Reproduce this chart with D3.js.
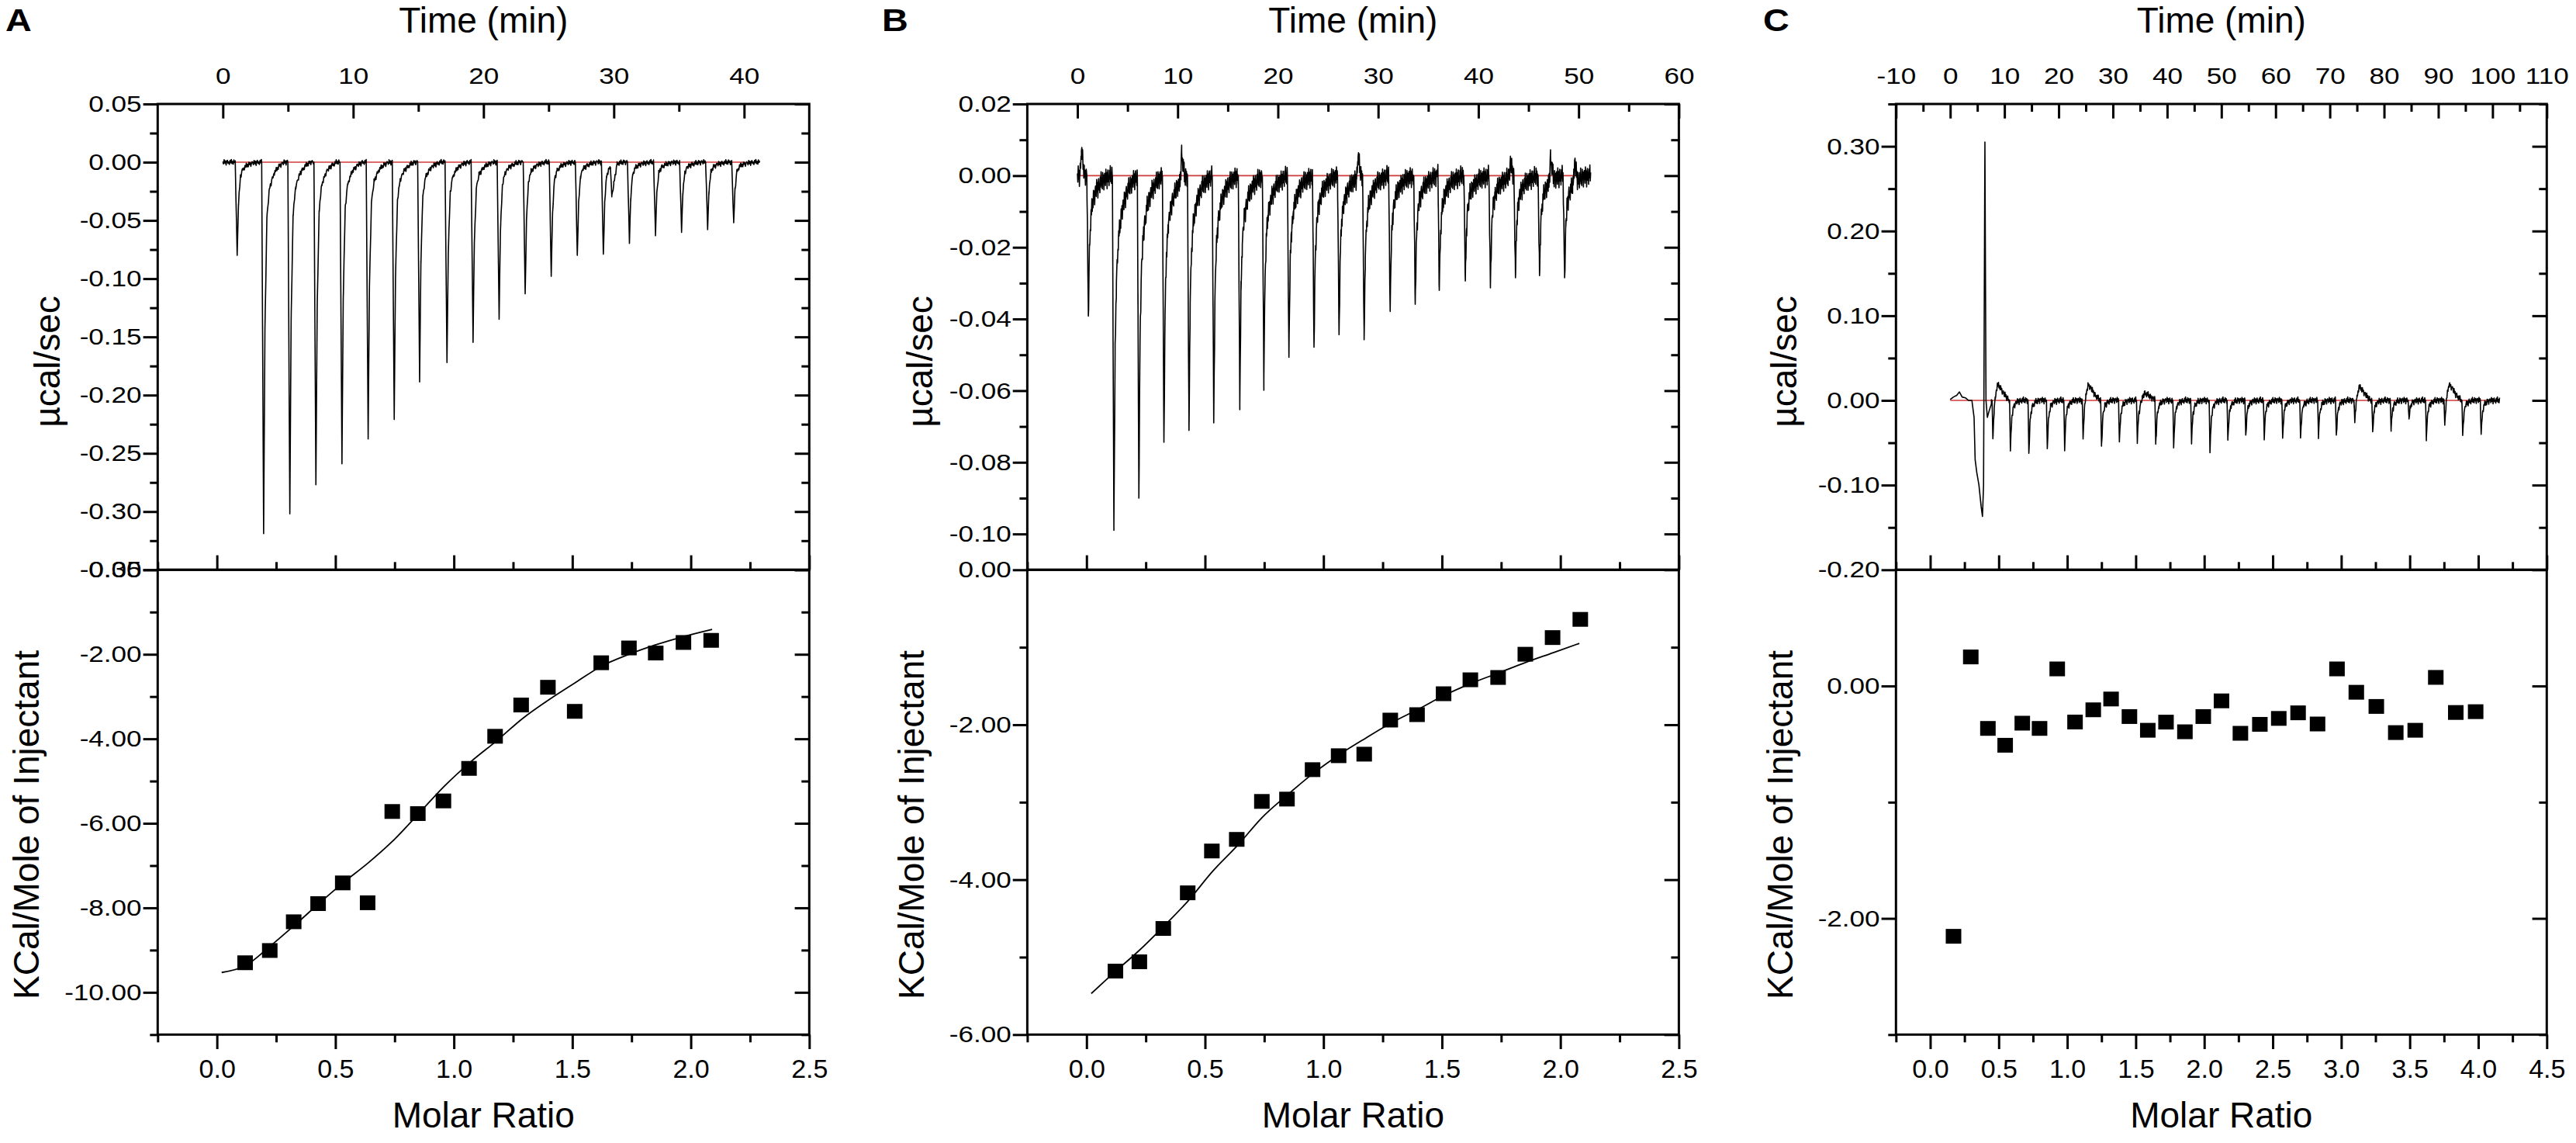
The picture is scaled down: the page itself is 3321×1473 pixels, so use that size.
<!DOCTYPE html>
<html><head><meta charset="utf-8">
<script src="https://cdn.jsdelivr.net/npm/d3@7"></script>
<style>
html,body{margin:0;padding:0;background:#fff;}
svg{display:block;}
text{font-family:"Liberation Sans", Arial, Helvetica, sans-serif; fill:#000;}
</style></head><body>
<svg id="chart" width="3321" height="1473"></svg>
<script>
// ================= DATA =================
const panelLetters = ["A", "B", "C"];
const timeTitle = "Time (min)";
const heatTitle = "µcal/sec";
const enthTitle = "KCal/Mole of Injectant";
const ratioTitle = "Molar Ratio";

// ---- Panel A ----
const timeDomainA = [-5, 45];
const timeTicksA = [0, 10, 20, 30, 40];
const timeMinorA = [5, 15, 25, 35];
const heatDomainA = [-0.35, 0.05];
const heatTicksA = [0.05, 0.00, -0.05, -0.10, -0.15, -0.20, -0.25, -0.30, -0.35];
const heatMinorA = [0.025, -0.025, -0.075, -0.125, -0.175, -0.225, -0.275, -0.325];
const enthDomainA = [-11, 0];
const enthTicksA = [0, -2, -4, -6, -8, -10];
const enthMinorA = [-1, -3, -5, -7, -9, -11];
const ratioDomainA = [-0.25, 2.5];
const ratioTicksA = [0, 0.5, 1.0, 1.5, 2.0, 2.5];
const ratioMinorA = [-0.25, 0.25, 0.75, 1.25, 1.75, 2.25];
const injTimesA = [1.1, 3.13, 5.14, 7.14, 9.14, 11.15, 13.15, 15.1, 17.2, 19.2, 21.2, 23.2, 25.2, 27.2, 29.2, 31.2, 33.2, 35.2, 37.2, 39.2];
const injPeaksA = [-0.080, -0.319, -0.302, -0.277, -0.259, -0.236, -0.219, -0.188, -0.172, -0.153, -0.133, -0.113, -0.098, -0.080, -0.079, -0.069, -0.061, -0.059, -0.057, -0.052];
const peakShapeA = [[-0.15, 0], [0, 1], [0.1, 0.45], [0.25, 0.15], [0.45, 0.07], [0.8, 0.03], [1.2, 0.01], [1.6, 0]];
const bumpTimesA = [29.85];
const bumpValsA = [-0.026];
const traceRangeA = [0, 41.2];
const refLineA = [0, 40.1];
const ratioA = [0.119, 0.223, 0.324, 0.427, 0.531, 0.636, 0.740, 0.848, 0.956, 1.064, 1.174, 1.284, 1.397, 1.510, 1.622, 1.739, 1.852, 1.969, 2.086];
const enthA = [-9.30, -9.01, -8.33, -7.90, -7.41, -7.88, -5.72, -5.77, -5.47, -4.70, -3.94, -3.20, -2.78, -3.35, -2.20, -1.85, -1.97, -1.72, -1.67];
const fitRatioA = [0.02, 0.12, 0.22, 0.32, 0.43, 0.53, 0.64, 0.74, 0.85, 0.96, 1.07, 1.18, 1.29, 1.40, 1.51, 1.62, 1.74, 1.85, 1.97, 2.09];
const fitEnthA = [-9.53, -9.37, -8.93, -8.45, -7.90, -7.42, -6.93, -6.43, -5.78, -5.12, -4.55, -4.05, -3.52, -3.08, -2.68, -2.29, -2.00, -1.78, -1.58, -1.41];

// ---- Panel B ----
const timeDomainB = [-5, 60];
const timeTicksB = [0, 10, 20, 30, 40, 50, 60];
const timeMinorB = [5, 15, 25, 35, 45, 55];
const heatDomainB = [-0.11, 0.02];
const heatTicksB = [0.02, 0.00, -0.02, -0.04, -0.06, -0.08, -0.10];
const heatMinorB = [0.01, -0.01, -0.03, -0.05, -0.07, -0.09];
const enthDomainB = [-6, 0];
const enthTicksB = [0, -2, -4, -6];
const enthMinorB = [-1, -3, -5];
const ratioDomainB = [-0.25, 2.5];
const ratioTicksB = [0, 0.5, 1.0, 1.5, 2.0, 2.5];
const ratioMinorB = [-0.25, 0.25, 0.75, 1.25, 1.75, 2.25];
const injTimesB = [1.09, 3.64, 6.13, 8.63, 11.13, 13.6, 16.2, 18.6, 21.1, 23.6, 26.1, 28.6, 31.2, 33.7, 36.1, 38.7, 41.2, 43.7, 46.1, 48.6];
const injPeaksB = [-0.0392, -0.0990, -0.0900, -0.0744, -0.0711, -0.0687, -0.0638, -0.0569, -0.0547, -0.0479, -0.0444, -0.0458, -0.0379, -0.0359, -0.0347, -0.0294, -0.0310, -0.0285, -0.0279, -0.0285];
const peakShapeB = [[-0.15, 0], [0, 1], [0.12, 0.5], [0.25, 0.3], [0.45, 0.18], [0.8, 0.1], [1.3, 0.045], [1.9, 0.015], [2.4, 0]];
const bumpTimesB = [0.4, 10.4, 21.1, 28.0, 36.0, 43.2, 47.2, 49.6];
const bumpValsB = [0.007, 0.008, 0.004, 0.006, 0.004, 0.004, 0.007, 0.006];
const traceRangeB = [0, 51.2];
const refLineB = [0, 51.0];
const ratioB = [0.122, 0.223, 0.324, 0.427, 0.529, 0.634, 0.740, 0.846, 0.954, 1.064, 1.172, 1.282, 1.395, 1.507, 1.620, 1.737, 1.852, 1.967, 2.084];
const enthB = [-5.18, -5.06, -4.63, -4.17, -3.63, -3.48, -2.99, -2.96, -2.58, -2.40, -2.38, -1.94, -1.87, -1.60, -1.42, -1.39, -1.09, -0.875, -0.64];
const fitRatioB = [0.02, 0.12, 0.22, 0.32, 0.43, 0.53, 0.64, 0.74, 0.85, 0.96, 1.07, 1.18, 1.29, 1.40, 1.51, 1.62, 1.74, 1.85, 1.97, 2.08];
const fitEnthB = [-5.47, -5.19, -4.92, -4.62, -4.27, -3.90, -3.55, -3.20, -2.90, -2.62, -2.38, -2.17, -1.97, -1.80, -1.62, -1.47, -1.33, -1.20, -1.07, -0.95];

// ---- Panel C ----
const timeDomainC = [-10, 110];
const timeTicksC = [-10, 0, 10, 20, 30, 40, 50, 60, 70, 80, 90, 100, 110];
const timeMinorC = [-5, 5, 15, 25, 35, 45, 55, 65, 75, 85, 95, 105];
const heatDomainC = [-0.20, 0.35];
const heatTicksC = [0.30, 0.20, 0.10, 0.00, -0.10, -0.20];
const heatMinorC = [0.35, 0.25, 0.15, 0.05, -0.05, -0.15];
const enthDomainC = [-3, 1];
const enthTicksC = [0, -2];
const enthMinorC = [-1, -3];
const ratioDomainC = [-0.25, 4.5];
const ratioTicksC = [0, 0.5, 1.0, 1.5, 2.0, 2.5, 3.0, 3.5, 4.0, 4.5];
const ratioMinorC = [-0.25, 0.25, 0.75, 1.25, 1.75, 2.25, 2.75, 3.25, 3.75, 4.25];
const firstEventC = [[0, 0.001], [0.6, 0.004], [1.2, 0.006], [1.7, 0.010], [2.2, 0.004], [2.8, 0.003], [3.4, 0.0], [4.0, 0.0], [4.4, -0.02], [4.6, -0.07], [4.9, -0.085], [5.3, -0.10], [5.7, -0.125], [5.95, -0.137], [6.15, -0.10], [6.4, 0.305], [6.6, 0.0], [6.85, -0.02], [7.2, -0.012], [7.6, -0.004]];
const injTimesC = [7.87, 11.1, 14.5, 17.9, 21.1, 24.5, 27.9, 31.2, 34.5, 37.9, 41.2, 44.5, 47.9, 51.2, 54.5, 57.9, 61.3, 64.6, 67.9, 71.2, 74.6, 77.9, 81.3, 84.6, 87.8, 91.2, 94.5, 97.9];
const injPeaksC = [-0.047, -0.059, -0.0625, -0.057, -0.056, -0.044, -0.054, -0.049, -0.048, -0.052, -0.054, -0.049, -0.061, -0.047, -0.041, -0.043, -0.043, -0.044, -0.041, -0.041, -0.027, -0.037, -0.034, -0.022, -0.044, -0.030, -0.041, -0.040];
const peakShapeC = [[-0.15, 0], [0, 1], [0.25, 0.35], [0.6, 0.12], [1.2, 0.03], [2.0, 0]];
const bumpTimesC = [8.7, 25.4, 35.8, 75.4, 92.0];
const bumpValsC = [0.022, 0.021, 0.010, 0.018, 0.021];
const traceRangeC = [7.6, 101.3];
const refLineC = [0, 101.2];
const ratioC = [0.170, 0.296, 0.421, 0.547, 0.672, 0.798, 0.927, 1.057, 1.190, 1.320, 1.454, 1.588, 1.721, 1.859, 1.993, 2.126, 2.264, 2.406, 2.544, 2.685, 2.827, 2.969, 3.110, 3.256, 3.398, 3.540, 3.690, 3.836, 3.981];
const enthC = [-2.154, 0.25, -0.365, -0.51, -0.32, -0.365, 0.147, -0.31, -0.205, -0.112, -0.263, -0.381, -0.311, -0.394, -0.263, -0.128, -0.407, -0.330, -0.279, -0.231, -0.327, 0.147, -0.054, -0.176, -0.401, -0.381, 0.074, -0.228, -0.221];

// hand-picked baseline wiggle pattern (instrument noise look)
const baselineWiggle = [0.2, -0.6, 0.9, -0.3, 0.5, -1.0, 0.4, 0.7, -0.4, 0.1, -0.8, 0.6, -0.2, 1.0, -0.5, 0.3, -0.7, 0.8, -0.1, 0.5, -0.9, 0.2, 0.6];
const bumpShapeC = [[-0.9, 0], [-0.4, 0.55], [0, 1], [0.5, 0.75], [1.2, 0.35], [2.2, 0]];
const bumpShapeB = [[-0.15, 0], [0, 1], [0.3, 0]];
const dipShapeA = [[-0.1, 0], [0, 1], [0.4, 0]];

// ================= LAYOUT =================
const panels = [
  {letter: panelLetters[0], left: 203.3, right: 1043.3, letterX: 7,
   timeDomain: timeDomainA, timeTicks: timeTicksA, timeMinor: timeMinorA,
   heatDomain: heatDomainA, heatTicks: heatTicksA, heatMinor: heatMinorA,
   enthDomain: enthDomainA, enthTicks: enthTicksA, enthMinor: enthMinorA,
   ratioDomain: ratioDomainA, ratioTicks: ratioTicksA, ratioMinor: ratioMinorA,
   inj: [injTimesA, injPeaksA], shape: peakShapeA, bumps: [bumpTimesA, bumpValsA, dipShapeA],
   range: traceRangeA, ref: refLineA, first: null, noise: 0.0024, step: 0.05,
   ratio: ratioA, enth: enthA, fit: [fitRatioA, fitEnthA], heatLabX: 61, enthLabX: 34},
  {letter: panelLetters[1], left: 1324.4, right: 2164.4, letterX: 1137,
   timeDomain: timeDomainB, timeTicks: timeTicksB, timeMinor: timeMinorB,
   heatDomain: heatDomainB, heatTicks: heatTicksB, heatMinor: heatMinorB,
   enthDomain: enthDomainB, enthTicks: enthTicksB, enthMinor: enthMinorB,
   ratioDomain: ratioDomainB, ratioTicks: ratioTicksB, ratioMinor: ratioMinorB,
   inj: [injTimesB, injPeaksB], shape: peakShapeB, bumps: [bumpTimesB, bumpValsB, bumpShapeB],
   range: traceRangeB, ref: refLineB, first: null, noise: 0.003, step: 0.04,
   ratio: ratioB, enth: enthB, fit: [fitRatioB, fitEnthB], heatLabX: 1186, enthLabX: 1175},
  {letter: panelLetters[2], left: 2444.3, right: 3283.3, letterX: 2273,
   timeDomain: timeDomainC, timeTicks: timeTicksC, timeMinor: timeMinorC,
   heatDomain: heatDomainC, heatTicks: heatTicksC, heatMinor: heatMinorC,
   enthDomain: enthDomainC, enthTicks: enthTicksC, enthMinor: enthMinorC,
   ratioDomain: ratioDomainC, ratioTicks: ratioTicksC, ratioMinor: ratioMinorC,
   inj: [injTimesC, injPeaksC], shape: peakShapeC, bumps: [bumpTimesC, bumpValsC, bumpShapeC],
   range: traceRangeC, ref: refLineC, first: firstEventC, noise: 0.004, step: 0.1,
   ratio: ratioC, enth: enthC, fit: null, heatLabX: 2300, enthLabX: 2295}
];

const TOP = 134, MID = 734.3, BOT = 1333.3;
const MAJ = 18.7, MIN = 10, SW = 3;
const LABEL_STRETCH = 1.17;

const loc = d3.formatLocale({decimal: ".", thousands: ",", grouping: [3], currency: ["", ""], minus: "-"});
const f2 = loc.format(".2f"), f1 = loc.format(".1f"), f0 = loc.format("d");

const svg = d3.select("#chart");

function shapeAt(shape, dt) {
  if (dt <= shape[0][0] || dt >= shape[shape.length - 1][0]) return 0;
  for (let k = 1; k < shape.length; k++) {
    if (dt <= shape[k][0]) {
      const a = shape[k - 1], b = shape[k];
      return a[1] + (b[1] - a[1]) * (dt - a[0]) / (b[0] - a[0]);
    }
  }
  return 0;
}

function buildTrace(p) {
  const [times, peaks] = p.inj;
  const [bt, bv, bshape] = p.bumps;
  const pts = [];
  const value = t => {
    let v = 0;
    times.forEach((ti, i) => { v += peaks[i] * shapeAt(p.shape, t - ti); });
    bt.forEach((ti, i) => { v += bv[i] * shapeAt(bshape, t - ti); });
    return v;
  };
  let idx = 0;
  for (let t = p.range[0]; t <= p.range[1] + 1e-9; t += p.step) {
    pts.push([t, value(t) + p.noise * baselineWiggle[idx % baselineWiggle.length]]);
    idx++;
  }
  times.forEach(ti => p.shape.forEach(s => {
    const t = ti + s[0];
    if (t >= p.range[0] && t <= p.range[1]) pts.push([t, value(t)]);
  }));
  bt.forEach(ti => bshape.forEach(s => {
    const t = ti + s[0];
    if (t >= p.range[0] && t <= p.range[1]) pts.push([t, value(t)]);
  }));
  pts.sort((a, b) => a[0] - b[0]);
  return p.first ? p.first.concat(pts) : pts;
}

function styleAxis(g, size) {
  g.attr("font-size", size).attr("font-family", null);
  g.select(".domain").remove();
  g.selectAll(".tick line").attr("stroke", "#000").attr("stroke-width", SW);
  g.selectAll(".tick text").attr("fill", "#000");
}

panels.forEach(p => {
  const g = svg.append("g");
  const xT = d3.scaleLinear().domain(p.timeDomain).range([p.left, p.right]);
  const yH = d3.scaleLinear().domain(p.heatDomain).range([MID, TOP]);
  const xR = d3.scaleLinear().domain(p.ratioDomain).range([p.left, p.right]);
  const yE = d3.scaleLinear().domain(p.enthDomain).range([BOT, MID]);
  const cx = (p.left + p.right) / 2;

  // ---- texts ----
  g.append("text").attr("transform", `translate(${p.letterX},40) scale(1.17,1)`)
    .attr("font-size", 40).attr("font-weight", "bold").text(p.letter);
  g.append("text").attr("x", cx).attr("y", 42).attr("text-anchor", "middle").attr("font-size", 46).text(timeTitle);
  g.append("text").attr("x", cx).attr("y", 1453).attr("text-anchor", "middle").attr("font-size", 46).text(ratioTitle);
  g.append("text").attr("transform", `translate(${p.heatLabX},466) rotate(-90)`).attr("text-anchor", "middle")
    .attr("dominant-baseline", "central").attr("font-size", 46).text(heatTitle);
  g.append("text").attr("transform", `translate(${p.enthLabX},1063) rotate(-90)`).attr("text-anchor", "middle")
    .attr("dominant-baseline", "central").attr("font-size", 46).text(enthTitle);

  // ---- thermogram ----
  const line = d3.line().x(d => xT(d[0])).y(d => yH(d[1]));
  g.append("path").datum(p.ref.map(t => [t, 0])).attr("d", line)
    .attr("fill", "none").attr("stroke", "#d03a3a").attr("stroke-width", 1.6);
  g.append("path").datum(buildTrace(p)).attr("d", line)
    .attr("fill", "none").attr("stroke", "#000").attr("stroke-width", 1.6).attr("stroke-linejoin", "round");

  // ---- binding isotherm ----
  if (p.fit) {
    const fl = d3.line().x(d => xR(d[0])).y(d => yE(d[1])).curve(d3.curveMonotoneX);
    g.append("path").datum(p.fit[0].map((r, i) => [r, p.fit[1][i]])).attr("d", fl)
      .attr("fill", "none").attr("stroke", "#000").attr("stroke-width", 1.8);
  }
  const SQW = 20, SQH = 19;
  g.selectAll("rect.pt").data(p.ratio.map((r, i) => [r, p.enth[i]])).join("rect").attr("class", "pt")
    .attr("x", d => xR(d[0]) - SQW / 2).attr("y", d => yE(d[1]) - SQH / 2)
    .attr("width", SQW).attr("height", SQH).attr("fill", "#000");

  // ---- frames ----
  g.append("rect").attr("x", p.left).attr("y", TOP).attr("width", p.right - p.left).attr("height", MID - TOP)
    .attr("fill", "none").attr("stroke", "#000").attr("stroke-width", SW);
  g.append("rect").attr("x", p.left).attr("y", MID).attr("width", p.right - p.left).attr("height", BOT - MID)
    .attr("fill", "none").attr("stroke", "#000").attr("stroke-width", SW);

  // ---- time axis (top, ticks inward) ----
  g.append("g").attr("transform", `translate(0,${TOP})`)
    .call(d3.axisTop(xT).tickValues(p.timeTicks).tickSizeInner(-MAJ).tickSizeOuter(0).tickPadding(26).tickFormat(f0))
    .call(a => styleAxis(a, 30))
    .call(a => a.selectAll(".tick text").attr("transform", `scale(${LABEL_STRETCH},1)`));
  g.append("g").attr("transform", `translate(0,${TOP})`)
    .call(d3.axisTop(xT).tickValues(p.timeMinor).tickSizeInner(-MIN).tickSizeOuter(0).tickFormat(""))
    .call(a => styleAxis(a, 30));

  const stretchLeft = a => a.selectAll(".tick text")
    .attr("transform", `scale(${LABEL_STRETCH},1)`).attr("x", -(MAJ + 2) / LABEL_STRETCH);

  // ---- heat axis (left outward, right inward) ----
  g.append("g").attr("transform", `translate(${p.left},0)`)
    .call(d3.axisLeft(yH).tickValues(p.heatTicks).tickSizeInner(MAJ).tickSizeOuter(0).tickPadding(2).tickFormat(f2))
    .call(a => styleAxis(a, 30)).call(stretchLeft);
  g.append("g").attr("transform", `translate(${p.left},0)`)
    .call(d3.axisLeft(yH).tickValues(p.heatMinor).tickSizeInner(MIN).tickSizeOuter(0).tickFormat(""))
    .call(a => styleAxis(a, 30));
  g.append("g").attr("transform", `translate(${p.right},0)`)
    .call(d3.axisRight(yH).tickValues(p.heatTicks).tickSizeInner(-MAJ).tickSizeOuter(0).tickFormat(""))
    .call(a => styleAxis(a, 30));
  g.append("g").attr("transform", `translate(${p.right},0)`)
    .call(d3.axisRight(yH).tickValues(p.heatMinor).tickSizeInner(-MIN).tickSizeOuter(0).tickFormat(""))
    .call(a => styleAxis(a, 30));

  // ---- enthalpy axis ----
  g.append("g").attr("transform", `translate(${p.left},0)`)
    .call(d3.axisLeft(yE).tickValues(p.enthTicks).tickSizeInner(MAJ).tickSizeOuter(0).tickPadding(2).tickFormat(f2))
    .call(a => styleAxis(a, 30)).call(stretchLeft);
  g.append("g").attr("transform", `translate(${p.left},0)`)
    .call(d3.axisLeft(yE).tickValues(p.enthMinor).tickSizeInner(MIN).tickSizeOuter(0).tickFormat(""))
    .call(a => styleAxis(a, 30));
  g.append("g").attr("transform", `translate(${p.right},0)`)
    .call(d3.axisRight(yE).tickValues(p.enthTicks).tickSizeInner(-MAJ).tickSizeOuter(0).tickFormat(""))
    .call(a => styleAxis(a, 30));
  g.append("g").attr("transform", `translate(${p.right},0)`)
    .call(d3.axisRight(yE).tickValues(p.enthMinor).tickSizeInner(-MIN).tickSizeOuter(0).tickFormat(""))
    .call(a => styleAxis(a, 30));

  // ---- molar ratio axis (bottom outward, divider inward) ----
  g.append("g").attr("transform", `translate(0,${BOT})`)
    .call(d3.axisBottom(xR).tickValues(p.ratioTicks).tickSizeInner(MAJ).tickSizeOuter(0).tickPadding(13).tickFormat(f1))
    .call(a => styleAxis(a, 34));
  g.append("g").attr("transform", `translate(0,${BOT})`)
    .call(d3.axisBottom(xR).tickValues(p.ratioMinor).tickSizeInner(MIN).tickSizeOuter(0).tickFormat(""))
    .call(a => styleAxis(a, 34));
  g.append("g").attr("transform", `translate(0,${MID})`)
    .call(d3.axisBottom(xR).tickValues(p.ratioTicks).tickSizeInner(-MAJ).tickSizeOuter(0).tickFormat(""))
    .call(a => styleAxis(a, 34));
  g.append("g").attr("transform", `translate(0,${MID})`)
    .call(d3.axisBottom(xR).tickValues(p.ratioMinor).tickSizeInner(-MIN).tickSizeOuter(0).tickFormat(""))
    .call(a => styleAxis(a, 34));
});
</script>
</body></html>
